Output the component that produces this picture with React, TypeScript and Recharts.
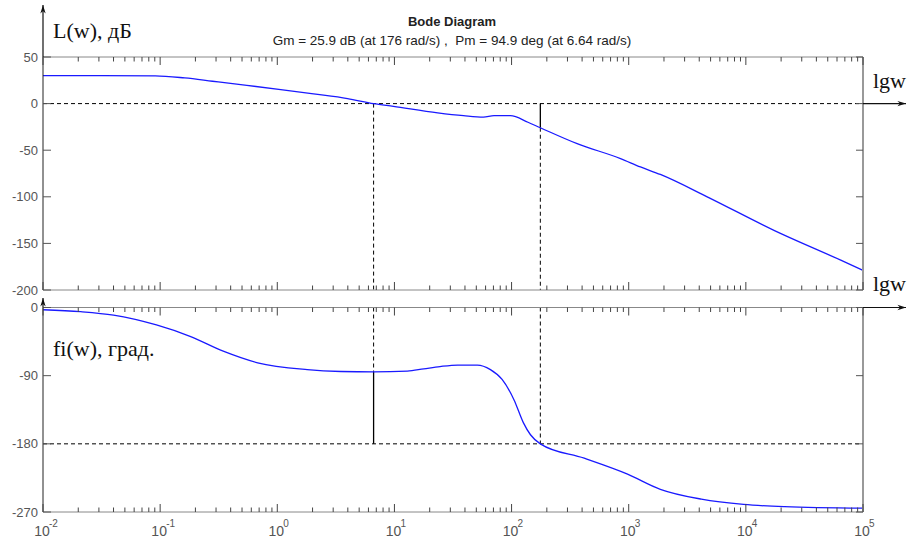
import React from 'react';
import { LineChart, Line, XAxis, YAxis, ReferenceLine } from 'recharts';

const W = 913;
const H = 540;
const PLOT_LEFT = 43;
const PLOT_RIGHT = 863;
const MAG_TOP = 57;
const MAG_BOTTOM = 290;
const PH_TOP = 307.5;
const PH_BOTTOM = 512;

const SANS = '"Liberation Sans", Arial, sans-serif';
const SERIF = '"Liberation Serif", "Times New Roman", serif';

// L(w), dB
const magFreq = [0.01, 0.0316, 0.091, 0.162, 0.28, 0.55, 1.07, 2.04, 3.98, 6.64, 9.8, 23.4, 38.9, 57.5, 70.8, 97.7, 138, 176, 363, 851, 1259, 1862, 4677, 17378, 64565, 100000];
const magDb = [30, 30, 29.8, 27.5, 24, 19.6, 15, 10.4, 5.4, 0, -3, -10, -13, -14.5, -13, -13, -20, -25.9, -43, -59, -68, -76, -100, -136, -168, -179];

// fi(w), deg
const phaseFreq = [0.01, 0.021, 0.04, 0.093, 0.18, 0.35, 0.68, 1.8, 3.5, 6.64, 12.9, 17.8, 24.5, 34.7, 51, 66, 83, 105, 126, 145, 176, 417, 977, 1862, 4169, 9550, 21380, 100000];
const phaseDeg = [-3, -5.5, -10, -23, -38, -58, -73, -82, -84.5, -85.1, -84, -81, -78, -76, -76, -82, -95, -122, -152, -168, -180, -199, -220, -240, -253, -260, -263, -265];

const decades = [0.01, 0.1, 1, 10, 100, 1000, 10000, 100000];
const decadeExp = ['-2', '-1', '0', '1', '2', '3', '4', '5'];
const magTicks = [50, 0, -50, -100, -150, -200];
const phaseTicks = [0, -90, -180, -270];

// margins
const wCut = 6.64;
const wPi = 176;
const gmDb = -25.9;
const pmPhase = -85.1;

const magData = magFreq.map((w, i) => ({ w, v: magDb[i] }));
const phaseData = phaseFreq.map((w, i) => ({ w, v: phaseDeg[i] }));

// 1..9 x 10^k inside every decade
const logTicks: number[] = [];
decades.slice(0, -1).forEach(d => {
  for (let m = 1; m < 10; m++) logTicks.push(+(m * d).toPrecision(6));
});
logTicks.push(100000);

function XTick(props: any) {
  const { x, y, payload, side, showLabel } = props;
  const idx = decades.findIndex(d => Math.abs(d - payload.value) < d * 1e-6);
  const len = idx >= 0 ? 8 : 4.5;
  const dir = side === 'top' ? 1 : -1;
  return (
    <g>
      <line x1={x} y1={y} x2={x} y2={y + dir * len} stroke="#444" />
      {showLabel && idx >= 0 && (
        <g fontFamily={SANS} fill="#555">
          <text x={x - 1} y={y + 24} textAnchor="middle" fontSize={14}>10</text>
          <text x={x + 6} y={y + 15} fontSize={10}>{decadeExp[idx]}</text>
        </g>
      )}
    </g>
  );
}

function YTick(props: any) {
  const { x, y, payload, side } = props;
  if (side === 'right') return <line x1={x - 7} y1={y} x2={x} y2={y} stroke="#555" />;
  return (
    <g>
      <line x1={x} y1={y} x2={x + 8} y2={y} stroke="#555" />
      <text x={x - 5} y={y} dy="0.35em" textAnchor="end" fontSize={13} fill="#555" fontFamily={SANS}>
        {payload.value}
      </text>
    </g>
  );
}

// axes are 1px thick so that recharts still lays them out
function Axes({ yTicks, domain, labels }: { yTicks: number[]; domain: [number, number]; labels: boolean }) {
  return [
    <XAxis key="xb" xAxisId="x" dataKey="w" type="number" scale="log" domain={[0.01, 100000]} allowDataOverflow
      ticks={logTicks} interval={0} height={1} tickSize={0} tickMargin={0} tickLine={false}
      axisLine={{ stroke: '#888' }} tick={(p: any) => <XTick {...p} side="bottom" showLabel={labels} />} />,
    <XAxis key="xt" xAxisId="xt" orientation="top" dataKey="w" type="number" scale="log" domain={[0.01, 100000]} allowDataOverflow
      ticks={logTicks} interval={0} height={1} tickSize={0} tickMargin={0} tickLine={false}
      axisLine={{ stroke: '#888' }} tick={(p: any) => <XTick {...p} side="top" />} />,
    <YAxis key="yl" yAxisId="y" type="number" domain={domain} allowDataOverflow ticks={yTicks} interval={0}
      width={PLOT_LEFT} tickSize={0} tickMargin={0} tickLine={false} axisLine={{ stroke: '#222' }}
      tick={(p: any) => <YTick {...p} side="left" />} />,
    <YAxis key="yr" yAxisId="yr" orientation="right" type="number" domain={domain} allowDataOverflow ticks={yTicks} interval={0}
      width={1} tickSize={0} tickMargin={0} tickLine={false} axisLine={{ stroke: '#999', strokeWidth: 2 }}
      tick={(p: any) => <YTick {...p} side="right" />} />,
  ];
}

const dash = '4 3';
const ids = { xAxisId: 'x', yAxisId: 'y' };

function Arrow({ x1, y1, x2, y2 }: { x1: number; y1: number; x2: number; y2: number }) {
  const a = Math.atan2(y2 - y1, x2 - x1);
  const p = (r: number, t: number) => `${x2 - r * Math.cos(a + t)},${y2 - r * Math.sin(a + t)}`;
  return (
    <g>
      <line x1={x1} y1={y1} x2={x2} y2={y2} stroke="#111" strokeWidth={1.2} />
      <polygon points={`${x2},${y2} ${p(9, 0.3)} ${p(6, 0)} ${p(9, -0.3)}`} fill="#111" />
    </g>
  );
}

export default function App() {
  const y0 = MAG_TOP + (50 / 250) * (MAG_BOTTOM - MAG_TOP);
  return (
    <div style={{ position: 'absolute', left: 0, top: 0, width: W, height: H, background: '#fff' }}>
      <div style={{ position: 'absolute', left: 0, top: 0 }}>
        <LineChart width={W} height={H} data={phaseData}
          margin={{ top: PH_TOP - 1, right: W - PLOT_RIGHT - 1, bottom: H - PH_BOTTOM - 1, left: 0 }}>
          {Axes({ yTicks: phaseTicks, domain: [-270, 0], labels: true })}
          <ReferenceLine {...ids} y={-180} stroke="#000" strokeDasharray={dash} />
          <ReferenceLine {...ids} segment={[{ x: wPi, y: 0 }, { x: wPi, y: -180 }]} stroke="#000" strokeDasharray={dash} />
          <ReferenceLine {...ids} segment={[{ x: wCut, y: 0 }, { x: wCut, y: pmPhase }]} stroke="#000" strokeDasharray={dash} />
          <ReferenceLine {...ids} segment={[{ x: wCut, y: pmPhase }, { x: wCut, y: -180 }]} stroke="#000" strokeWidth={1.3} />
          <Line {...ids} dataKey="v" type="monotone" stroke="#1a1aff" strokeWidth={1.3} dot={false} isAnimationActive={false} />
        </LineChart>
      </div>
      <div style={{ position: 'absolute', left: 0, top: 0 }}>
        <LineChart width={W} height={300} data={magData}
          margin={{ top: MAG_TOP - 1, right: W - PLOT_RIGHT - 1, bottom: 300 - MAG_BOTTOM - 1, left: 0 }}>
          {Axes({ yTicks: magTicks, domain: [-200, 50], labels: false })}
          <ReferenceLine {...ids} y={0} stroke="#000" strokeDasharray={dash} />
          <ReferenceLine {...ids} segment={[{ x: wCut, y: 0 }, { x: wCut, y: -200 }]} stroke="#000" strokeDasharray={dash} />
          <ReferenceLine {...ids} segment={[{ x: wPi, y: 0 }, { x: wPi, y: gmDb }]} stroke="#000" strokeWidth={1.3} />
          <ReferenceLine {...ids} segment={[{ x: wPi, y: gmDb }, { x: wPi, y: -200 }]} stroke="#000" strokeDasharray={dash} />
          <Line {...ids} dataKey="v" type="monotone" stroke="#1a1aff" strokeWidth={1.3} dot={false} isAnimationActive={false} />
        </LineChart>
      </div>
      <svg width={W} height={H} style={{ position: 'absolute', left: 0, top: 0, pointerEvents: 'none' }}>
        <text x={452} y={26} textAnchor="middle" fontFamily={SANS} fontSize={13} fontWeight="bold" fill="#222">Bode Diagram</text>
        <text x={452} y={45} textAnchor="middle" fontFamily={SANS} fontSize={13.5} fill="#222" style={{ whiteSpace: 'pre' }}>
          {'Gm = 25.9 dB (at 176 rad/s) ,  Pm = 94.9 deg (at 6.64 rad/s)'}
        </text>
        <text x={53} y={38} fontFamily={SERIF} fontSize={22} fill="#111">L(w), дБ</text>
        <text x={53} y={356} fontFamily={SERIF} fontSize={22} fill="#111">fi(w), град.</text>
        <text x={873} y={88} fontFamily={SERIF} fontSize={22} fill="#111">lgw</text>
        <text x={873} y={291} fontFamily={SERIF} fontSize={22} fill="#111">lgw</text>
        <Arrow x1={PLOT_RIGHT} y1={y0} x2={906} y2={y0} />
        <Arrow x1={PLOT_RIGHT} y1={PH_TOP} x2={906} y2={PH_TOP} />
        <Arrow x1={PLOT_LEFT} y1={MAG_TOP} x2={PLOT_LEFT} y2={5} />
        <Arrow x1={PLOT_LEFT} y1={PH_TOP} x2={PLOT_LEFT} y2={298} />
      </svg>
    </div>
  );
}
